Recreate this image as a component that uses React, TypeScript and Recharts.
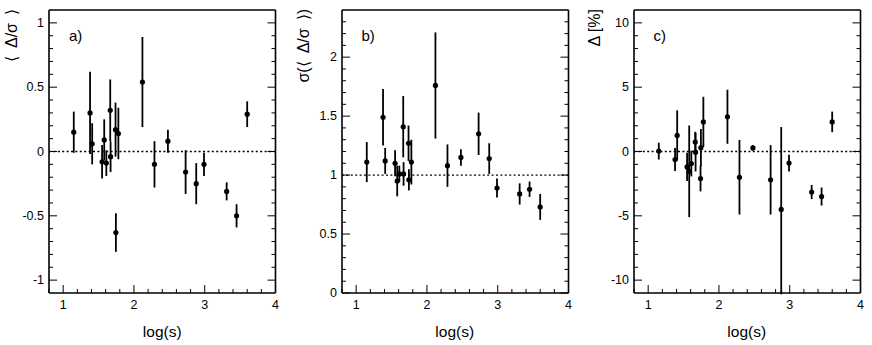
import React from 'react'
import {
  ScatterChart, Scatter, XAxis, YAxis, ErrorBar, ReferenceLine,
} from 'recharts'

// shared abscissa: log of energy
const LOG_S = [1.15, 1.38, 1.41, 1.55, 1.58, 1.61, 1.665, 1.67, 1.74, 1.745, 1.78, 2.12, 2.29, 2.48, 2.73, 2.88, 2.99, 3.31, 3.45, 3.6]

// a) mean of delta/sigma
const A_VAL = [0.15, 0.3, 0.06, -0.08, 0.09, -0.09, 0.32, -0.04, 0.17, -0.63, 0.14, 0.54, -0.1, 0.08, -0.16, -0.25, -0.1, -0.31, -0.5, 0.29]
const A_ERR = [0.16, 0.32, 0.16, 0.13, 0.16, 0.1, 0.24, 0.12, 0.21, 0.15, 0.2, 0.35, 0.18, 0.09, 0.17, 0.16, 0.09, 0.07, 0.09, 0.1]

// b) width of delta/sigma
const B_VAL = [1.11, 1.49, 1.12, 1.1, 0.95, 1.01, 1.41, 1.01, 1.27, 0.96, 1.11, 1.76, 1.08, 1.15, 1.35, 1.14, 0.89, 0.84, 0.88, 0.73]
const B_ERR = [0.17, 0.24, 0.11, 0.11, 0.13, 0.07, 0.26, 0.1, 0.15, 0.09, 0.19, 0.45, 0.18, 0.07, 0.18, 0.13, 0.08, 0.09, 0.065, 0.11]

// c) relative deviation in percent
const C_VAL = [0.03, -0.62, 1.25, -1.2, -1.54, -0.94, 0.73, -0.05, -2.1, 0.3, 2.3, 2.7, -2.0, 0.28, -2.2, -4.5, -0.9, -3.15, -3.5, 2.3]
const C_ERR: (number | number[])[] = [0.65, 0.9, 1.95, 1.1, 3.56, 1.0, 0.8, 1.5, 1.0, 1.45, 1.95, 2.1, 2.9, 0.2, 2.7, [6.6, 6.4], 0.65, 0.55, 0.7, 0.8]

const X_TICKS = [0.8, 1, 1.2, 1.4, 1.6, 1.8, 2, 2.2, 2.4, 2.6, 2.8, 3, 3.2, 3.4, 3.6, 3.8, 4]
const X_LABELS = [1, 2, 3, 4]

const A_TICKS = [-1, -0.9, -0.8, -0.7, -0.6, -0.5, -0.4, -0.3, -0.2, -0.1, 0, 0.1, 0.2, 0.3, 0.4, 0.5, 0.6, 0.7, 0.8, 0.9, 1]
const A_LABELS = [-1, -0.5, 0, 0.5, 1]
const B_TICKS = [0, 0.1, 0.2, 0.3, 0.4, 0.5, 0.6, 0.7, 0.8, 0.9, 1, 1.1, 1.2, 1.3, 1.4, 1.5, 1.6, 1.7, 1.8, 1.9, 2, 2.1, 2.2, 2.3]
const B_LABELS = [0, 0.5, 1, 1.5, 2]
const C_TICKS = [-10, -9, -8, -7, -6, -5, -4, -3, -2, -1, 0, 1, 2, 3, 4, 5, 6, 7, 8, 9, 10]
const C_LABELS = [-10, -5, 0, 5, 10]

const FONT = '"Liberation Sans", Arial, Helvetica, sans-serif'
const FRAME = { stroke: '#000', strokeWidth: 1.6 }
const PLOT_W = 226.5
const AXIS_W = 45
const PAD_R = 10
const H = 345

const isMajor = (v: number, labels: number[]) => labels.some((l) => Math.abs(l - v) < 1e-6)

const makeTick = (side: 'bottom' | 'top' | 'left' | 'right', labels: number[]) => (props: any) => {
  const { x, y, payload } = props
  const v = payload.value
  const major = isMajor(v, labels)
  const len = major ? 8 : 4
  if (side === 'bottom') {
    return (
      <g>
        <line x1={x} y1={y} x2={x} y2={y - len} stroke="#000" strokeWidth={1} />
        {major && (
          <text x={x} y={y + 12} textAnchor="middle" dominantBaseline="central"
            fontSize={12.5} fontFamily={FONT} fill="#000">{String(v)}</text>
        )}
      </g>
    )
  }
  if (side === 'top') return <line x1={x} y1={y} x2={x} y2={y + len} stroke="#000" strokeWidth={1} />
  if (side === 'right') return <line x1={x} y1={y} x2={x - len} y2={y} stroke="#000" strokeWidth={1} />
  return (
    <g>
      <line x1={x} y1={y} x2={x + len} y2={y} stroke="#000" strokeWidth={1} />
      {major && (
        <text x={x - 5} y={y} textAnchor="end" dominantBaseline="central"
          fontSize={12.5} fontFamily={FONT} fill="#000">{String(v)}</text>
      )}
    </g>
  )
}

const Dot = (props: any) => <circle cx={props.cx} cy={props.cy} r={2.6} fill="#000" />

interface PanelProps {
  plotLeft: number
  vals: number[]
  errs: (number | number[])[]
  yDomain: [number, number]
  yTicks: number[]
  yLabels: number[]
  refY: number
  title: string
  titleX: number
  tag: string
}

function Panel({ plotLeft, vals, errs, yDomain, yTicks, yLabels, refY, title, titleX, tag }: PanelProps) {
  const data = LOG_S.map((x, i) => ({ x, y: vals[i], e: errs[i] }))
  const left = plotLeft - AXIS_W
  const width = AXIS_W + PLOT_W + 1 + PAD_R
  return (
    <>
      <div style={{ position: 'absolute', left, top: 0 }}>
        <ScatterChart width={width} height={H} margin={{ top: 9, right: PAD_R, bottom: 0, left: 0 }}>
          <XAxis xAxisId="b" dataKey="x" type="number" domain={[0.8, 4]} ticks={X_TICKS}
            allowDataOverflow interval={0} height={52} tickSize={0} tickMargin={0}
            tickLine={false} axisLine={FRAME} tick={makeTick('bottom', X_LABELS)} />
          <XAxis xAxisId="t" orientation="top" type="number" domain={[0.8, 4]} ticks={X_TICKS}
            allowDataOverflow interval={0} height={1} tickSize={0} tickMargin={0}
            tickLine={false} axisLine={FRAME} tick={makeTick('top', X_LABELS)} />
          <YAxis yAxisId="l" dataKey="y" type="number" domain={yDomain} ticks={yTicks}
            allowDataOverflow interval={0} width={AXIS_W} tickSize={0} tickMargin={0}
            tickLine={false} axisLine={FRAME} tick={makeTick('left', yLabels)} />
          <YAxis yAxisId="r" orientation="right" type="number" domain={yDomain} ticks={yTicks}
            allowDataOverflow interval={0} width={1} tickSize={0} tickMargin={0}
            tickLine={false} axisLine={FRAME} tick={makeTick('right', yLabels)} />
          <ReferenceLine xAxisId="b" yAxisId="l" y={refY} stroke="#000" strokeWidth={1.4}
            strokeDasharray="2 2.4" />
          <Scatter data={data} xAxisId="b" yAxisId="l" dataKey="y" shape={<Dot />}
            isAnimationActive={false}>
            <ErrorBar dataKey="e" direction="y" width={0} stroke="#000" strokeWidth={1.8}
              isAnimationActive={false} />
          </Scatter>
        </ScatterChart>
      </div>
      <svg width={872} height={H} style={{ position: 'absolute', left: 0, top: 0, pointerEvents: 'none' }}>
        <text x={titleX} y={9} transform={`rotate(-90 ${titleX} 9)`} textAnchor="end"
          dominantBaseline="central" fontSize={16} fontFamily={FONT} fill="#000">{title}</text>
        <text x={plotLeft + 20} y={41} fontSize={15} fontFamily={FONT} fill="#000">{tag}</text>
        <text x={plotLeft + PLOT_W / 2} y={331} textAnchor="middle" dominantBaseline="central"
          fontSize={15.5} fontFamily={FONT} fill="#000">log(s)</text>
      </svg>
    </>
  )
}

export default function App() {
  return (
    <div style={{ position: 'absolute', left: 0, top: 0, width: 872, height: H, background: '#fff' }}>
      <Panel plotLeft={49} vals={A_VAL} errs={A_ERR} yDomain={[-1.1, 1.1]} yTicks={A_TICKS}
        yLabels={A_LABELS} refY={0} title={'⟨\u2002Δ/σ\u2002⟩'} titleX={11} tag="a)" />
      <Panel plotLeft={341.5} vals={B_VAL} errs={B_ERR} yDomain={[0, 2.4]} yTicks={B_TICKS}
        yLabels={B_LABELS} refY={1} title={'σ(⟨\u2002Δ/σ\u2002⟩)'} titleX={303} tag="b)" />
      <Panel plotLeft={633.5} vals={C_VAL} errs={C_ERR} yDomain={[-11, 11]} yTicks={C_TICKS}
        yLabels={C_LABELS} refY={0} title="Δ [%]" titleX={594} tag="c)" />
    </div>
  )
}
